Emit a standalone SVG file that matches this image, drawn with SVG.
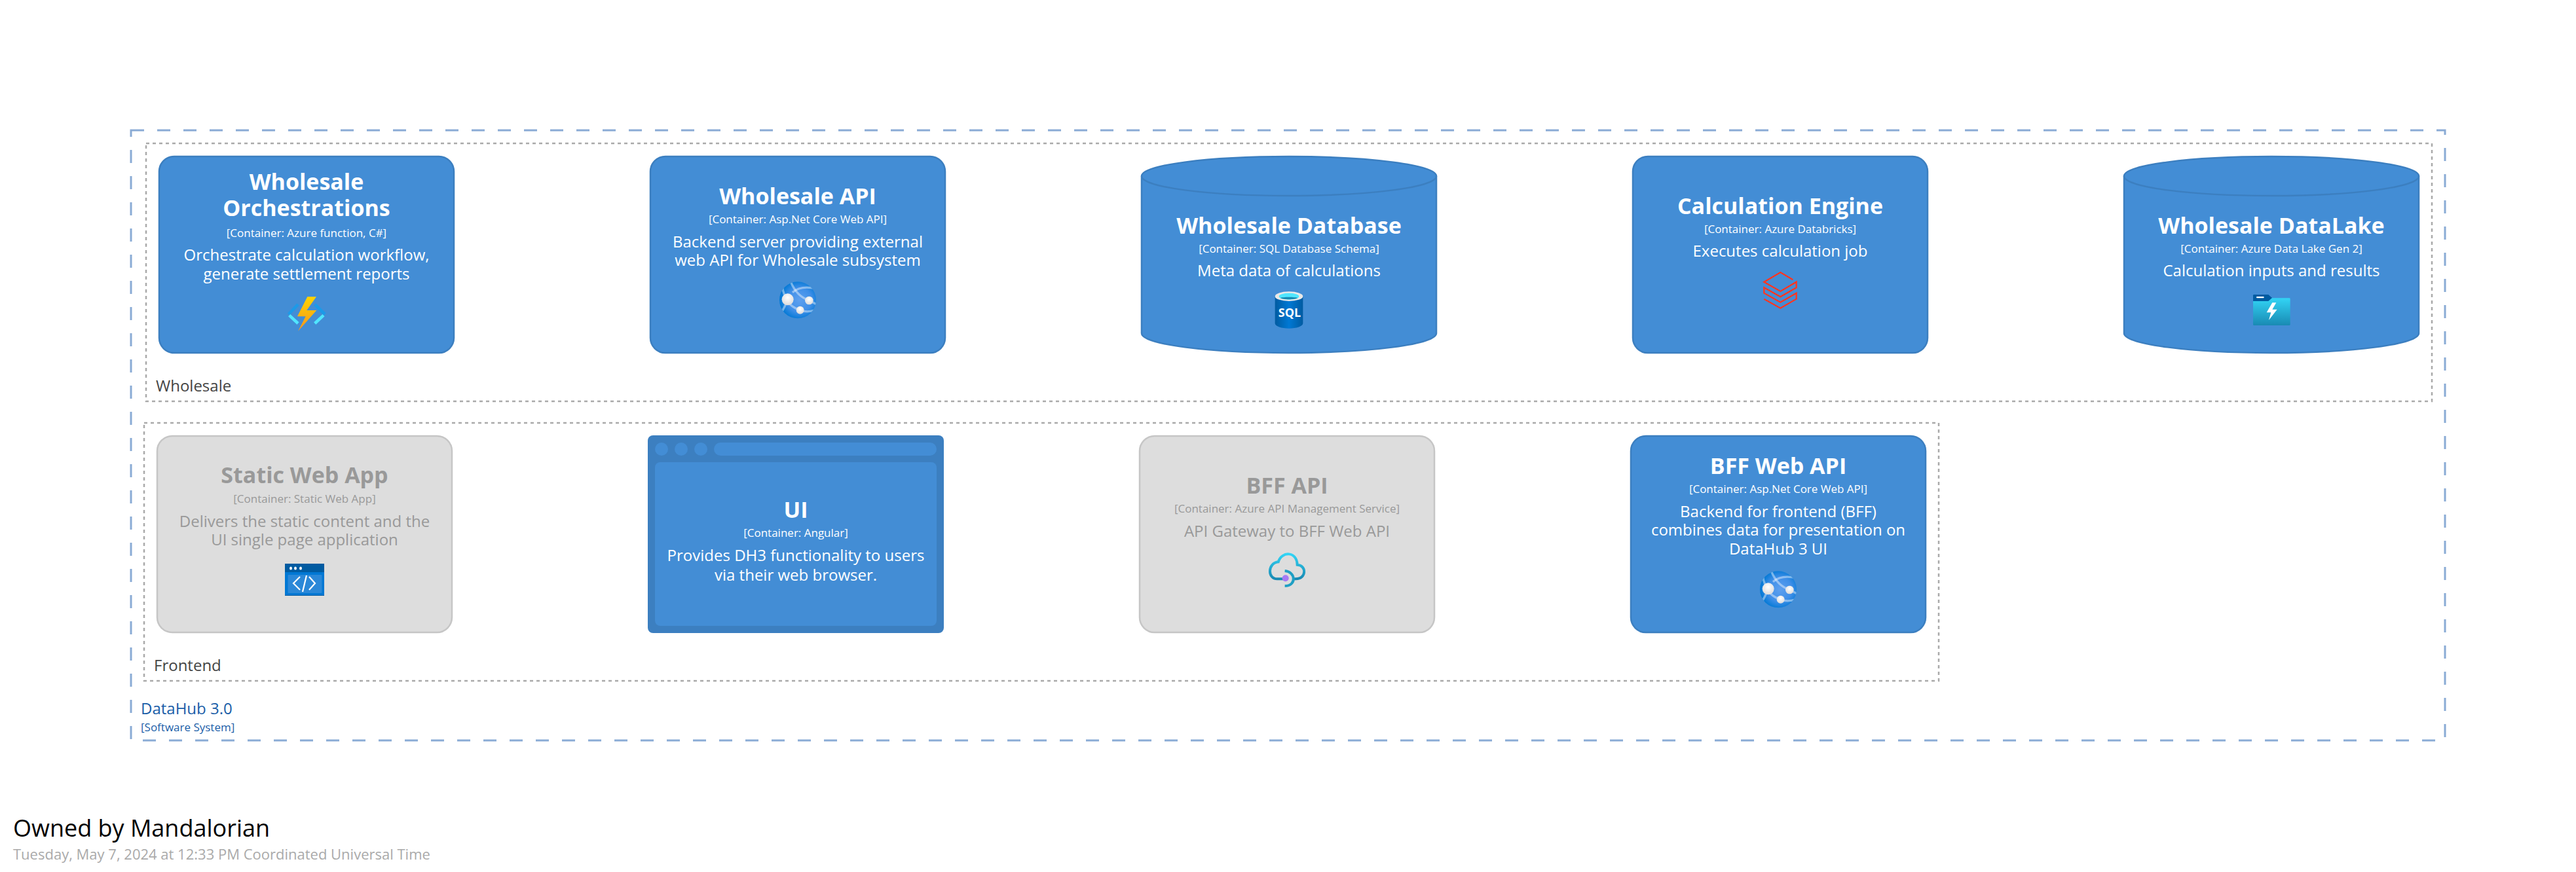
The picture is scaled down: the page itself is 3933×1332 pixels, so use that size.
<svg xmlns="http://www.w3.org/2000/svg" xmlns:xlink="http://www.w3.org/1999/xlink" width="3933" height="1332" viewBox="0 0 3933 1332">
<style>
text{font-family:"Open Sans","Noto Sans","Liberation Sans",sans-serif}
.c text{text-anchor:middle}
.n{font-size:34px;font-weight:700;fill:#fff}
.m{font-size:17px;fill:#fff}
.d{font-size:24px;fill:#fff}
.g .n{fill:#999}.g .m,.g .d{fill:#999}
.b{fill:#438dd5;stroke:#3c7fc0;stroke-width:2.5}
.g .b{fill:#ddd;stroke:#c6c6c6}
.grp{fill:none;stroke:#aaa;stroke-width:2.5;stroke-dasharray:5 5}
.lbl{font-size:24px;fill:#444}
</style>
<defs>
<linearGradient id="bolt" x1="0" y1="0" x2="0" y2="1"><stop offset="0" stop-color="#fed400"/><stop offset="1" stop-color="#f7941e"/></linearGradient>
<linearGradient id="sql" x1="0" y1="0" x2="1" y2="0"><stop offset="0" stop-color="#005ba1"/><stop offset=".5" stop-color="#0078d4"/><stop offset="1" stop-color="#005ba1"/></linearGradient>
<linearGradient id="lake" x1="0" y1="0" x2="0" y2="1"><stop offset="0" stop-color="#32d4f5"/><stop offset="1" stop-color="#198ab3"/></linearGradient>
<linearGradient id="cloud" x1="0" y1="0" x2="0" y2="1"><stop offset="0" stop-color="#32d4f5"/><stop offset="1" stop-color="#198ab3"/></linearGradient>
<radialGradient id="globe" cx=".55" cy=".5" r=".55"><stop offset="0" stop-color="#5ea0ef"/><stop offset=".6" stop-color="#3f8fe8"/><stop offset="1" stop-color="#0078d4"/></radialGradient>
<radialGradient id="ball" cx=".5" cy=".35" r=".7"><stop offset="0" stop-color="#fff"/><stop offset="1" stop-color="#d8d8d8"/></radialGradient>
<clipPath id="globeclip"><circle cx="174" cy="145" r="84"/></clipPath>
<g id="webicon">
<circle cx="174" cy="145" r="84" fill="url(#globe)"/>
<g fill="none" stroke="#fff" stroke-opacity=".42" stroke-width="10" clip-path="url(#globeclip)">
<path d="M142 62C160 105 190 135 226 147C238 152 250 160 262 166"/>
<path d="M126 142C135 170 165 185 185 191C205 200 225 200 250 192"/>
<path d="M150 110C175 88 210 82 255 92"/>
<path d="M126 142C120 170 105 190 98 204"/>
<path d="M128 142C115 130 105 105 104 85"/>
</g>
<circle cx="128" cy="142" r="27" fill="url(#ball)"/>
<circle cx="226" cy="147" r="19" fill="url(#ball)"/>
<circle cx="185" cy="191" r="18" fill="url(#ball)"/>
</g>
</defs>
<rect width="3933" height="1332" fill="#fff"/>
<g id="connectors"/>
<g id="boundary-datahub">
<rect x="200" y="199" width="3533" height="932" fill="none" stroke="#8aabd5" stroke-width="3" stroke-dasharray="20 20"/>
<text x="215" y="1091" font-size="24px" fill="#1a5ea8">DataHub 3.0</text>
<text x="215" y="1117" font-size="17px" fill="#1a5ea8">[Software System]</text>
</g>
<g id="group-wholesale">
<rect class="grp" x="223" y="219" width="3490" height="394"/>
<text class="lbl" x="238" y="598">Wholesale</text>
</g>
<g id="group-frontend">
<rect class="grp" x="220" y="646" width="2740" height="394"/>
<text class="lbl" x="235" y="1025">Frontend</text>
</g>
<g id="wholesale-orchestrations" class="c">
<rect class="b" x="243" y="239" width="450" height="300" rx="23"/>
<text class="n" x="468" y="290">Wholesale</text>
<text class="n" x="468" y="330">Orchestrations</text>
<text class="m" x="468" y="362">[Container: Azure function, C#]</text>
<text class="d" x="468" y="398">Orchestrate calculation workflow,</text>
<text class="d" x="468" y="427">generate settlement reports</text>
<g transform="translate(410 430) scale(.3333)">
<g fill="none" stroke-width="14">
<path d="M135 105L92 150" stroke="#1c9ae8"/><path d="M95 155L135 192" stroke="#50e6ff"/>
<path d="M212 105L258 150" stroke="#1c9ae8"/><path d="M252 155L212 192" stroke="#50e6ff"/>
</g>
<path d="M178 70H219L175 132H220L135 228L170 160H132Z" fill="url(#bolt)"/>
</g>
</g>
<g id="wholesale-api" class="c">
<rect class="b" x="993" y="239" width="450" height="300" rx="23"/>
<text class="n" x="1218" y="312">Wholesale API</text>
<text class="m" x="1218" y="341">[Container: Asp.Net Core Web API]</text>
<text class="d" x="1218" y="378">Backend server providing external</text>
<text class="d" x="1218" y="406">web API for Wholesale subsystem</text>
<use href="#webicon" transform="translate(1160 410) scale(.3333)"/>
</g>
<g id="wholesale-database" class="c">
<path class="b" d="M1743 269C1743 252 1844 239 1968 239S2193 252 2193 269V509C2193 526 2092 539 1968 539S1743 526 1743 509Z"/>
<path d="M1743 269C1743 286 1844 299 1968 299S2193 286 2193 269" fill="none" stroke="#3c7fc0" stroke-width="2.500"/>
<text class="n" x="1968" y="357">Wholesale Database</text>
<text class="m" x="1968" y="386">[Container: SQL Database Schema]</text>
<text class="d" x="1968" y="422">Meta data of calculations</text>
<g transform="translate(1920 430) scale(.3333)">
<path d="M80 68V192C80 205 110 215 144 215S208 205 208 192V68Z" fill="url(#sql)"/>
<ellipse cx="144" cy="68" rx="64" ry="22" fill="#e8e8e8"/>
<ellipse cx="144" cy="68" rx="46" ry="15" fill="#50e6ff"/>
<path d="M104 76C115 70 172 70 184 76C172 84 115 84 104 76Z" fill="#198ab3"/>
<text x="147" y="162" font-size="54px" font-weight="700" fill="#fff">SQL</text>
</g>
</g>
<g id="calculation-engine" class="c">
<rect class="b" x="2493" y="239" width="450" height="300" rx="23"/>
<text class="n" x="2718" y="327">Calculation Engine</text>
<text class="m" x="2718" y="356">[Container: Azure Databricks]</text>
<text class="d" x="2718" y="392">Executes calculation job</text>
<path transform="translate(2660 400) scale(.3333)" fill="none" stroke="#ff3621" stroke-width="7" d="M232 82L175 48L100 92L175 135L248 92V118L175 160L100 118V143L175 185L248 143V170L175 212L100 170"/>
</g>
<g id="wholesale-datalake" class="c">
<path class="b" d="M3243 269C3243 252 3344 239 3468 239S3693 252 3693 269V509C3693 526 3592 539 3468 539S3243 526 3243 509Z"/>
<path d="M3243 269C3243 286 3344 299 3468 299S3693 286 3693 269" fill="none" stroke="#3c7fc0" stroke-width="2.500"/>
<text class="n" x="3468" y="357">Wholesale DataLake</text>
<text class="m" x="3468" y="386">[Container: Azure Data Lake Gen 2]</text>
<text class="d" x="3468" y="422">Calculation inputs and results</text>
<g transform="translate(3410 430) scale(.3333)">
<rect x="90" y="76" width="170" height="125" rx="4" fill="url(#lake)"/>
<path d="M94 60H160L177 75L160 90H90V64Q90 60 94 60Z" fill="#005ba1"/>
<rect x="105" y="69" width="35" height="7" rx="3" fill="#fff"/>
<path d="M178 97H196L178 128H200L162 177L172 142H152Z" fill="#fff"/>
</g>
</g>
<g id="static-web-app" class="c g">
<rect class="b" x="240" y="666" width="450" height="300" rx="23"/>
<text class="n" x="465" y="738">Static Web App</text>
<text class="m" x="465" y="768">[Container: Static Web App]</text>
<text class="d" x="465" y="805">Delivers the static content and the</text>
<text class="d" x="465" y="833">UI single page application</text>
<g>
<rect x="435" y="861" width="60" height="49" fill="#005ba1"/>
<rect x="435" y="874" width="60" height="35" fill="#0078d4"/>
<rect x="439.500" y="878" width="52" height="28" rx="1" fill="#2b88d8"/>
<ellipse cx="444" cy="868" rx="2" ry="2.600" fill="#fff"/><ellipse cx="451" cy="868" rx="2" ry="2.600" fill="#fff"/><ellipse cx="459" cy="868" rx="2" ry="2.600" fill="#fff"/>
<g fill="none" stroke="#fff" stroke-width="2.200"><path d="M458 881L448 891L458 901M472 881L481 891L472 901M468 879L462 904"/></g>
</g>
</g>
<g id="ui" class="c">
<rect x="989" y="665" width="452" height="302" rx="8" fill="#3c7fc0"/>
<rect x="1000" y="706" width="430" height="250" rx="8" fill="#438dd5"/>
<rect x="1090" y="676" width="340" height="20" rx="10" fill="#438dd5"/>
<circle cx="1010" cy="686" r="10" fill="#438dd5"/><circle cx="1040" cy="686" r="10" fill="#438dd5"/><circle cx="1070" cy="686" r="10" fill="#438dd5"/>
<text class="n" x="1215" y="791">UI</text>
<text class="m" x="1215" y="820">[Container: Angular]</text>
<text class="d" x="1215" y="857">Provides DH3 functionality to users</text>
<text class="d" x="1215" y="887">via their web browser.</text>
</g>
<g id="bff-api" class="c g">
<rect class="b" x="1740" y="666" width="450" height="300" rx="23"/>
<text class="n" x="1965" y="754">BFF API</text>
<text class="m" x="1965" y="783">[Container: Azure API Management Service]</text>
<text class="d" x="1965" y="820">API Gateway to BFF Web API</text>
<g transform="translate(1920 830) scale(.3333)">
<path d="M120 163H90C45 163 45 90 95 85C110 35 180 35 182 98C225 100 225 163 175 163H162" fill="none" stroke="url(#cloud)" stroke-width="12"/>
<path d="M125 126C175 130 180 195 125 195" fill="none" stroke="#1f9fc4" stroke-width="12"/>
<circle cx="128" cy="160" r="15" fill="#a67af4"/>
</g>
</g>
<g id="bff-web-api" class="c">
<rect class="b" x="2490" y="666" width="450" height="300" rx="23"/>
<text class="n" x="2715" y="724">BFF Web API</text>
<text class="m" x="2715" y="753">[Container: Asp.Net Core Web API]</text>
<text class="d" x="2715" y="790">Backend for frontend (BFF)</text>
<text class="d" x="2715" y="818">combines data for presentation on</text>
<text class="d" x="2715" y="847">DataHub 3 UI</text>
<use href="#webicon" transform="translate(2657 852) scale(.3333)"/>
</g>
<g id="footer">
<text x="20" y="1278" font-size="36px" fill="#000">Owned by Mandalorian</text>
<text x="20" y="1313" font-size="22px" fill="#aaa">Tuesday, May 7, 2024 at 12:33 PM Coordinated Universal Time</text>
</g>
</svg>
